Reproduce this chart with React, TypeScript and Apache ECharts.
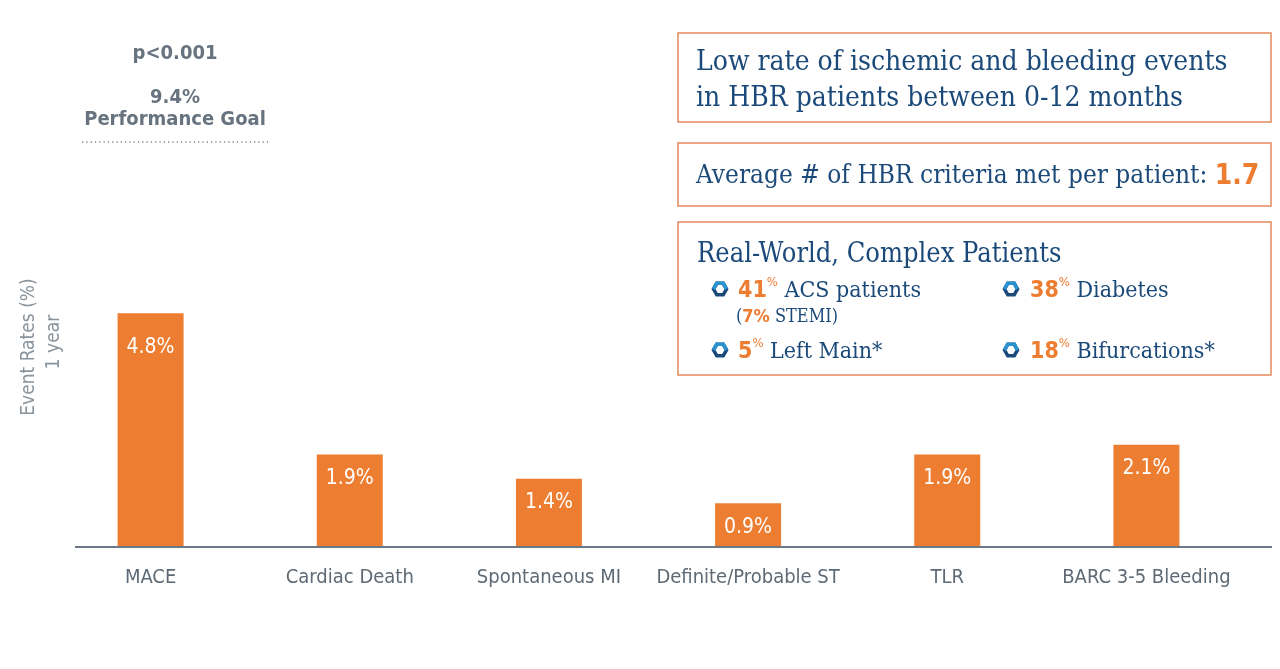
import React, { useEffect, useRef } from "react";
import * as echarts from "echarts";

const categories = ["MACE", "Cardiac Death", "Spontaneous MI", "Definite/Probable ST", "TLR", "BARC 3-5 Bleeding"];
const eventRates = [4.8, 1.9, 1.4, 0.9, 1.9, 2.1];
const yAxisMin = 0;
const yAxisMax = 10;

const ORANGE = "#ed7d31";
const BLUE = "#1b4a7a";
const LIGHTBLUE = "#2a93cf";
const GREY = "#67737e";
const SANS = "'Liberation Sans Narrow', 'DejaVu Sans Condensed', sans-serif";
const SERIF = "'DejaVu Serif Condensed', 'DejaVu Serif', serif";

function hexagon(cx: number, cy: number) {
  const r = 6.5;
  const pts: number[][] = [];
  for (let i = 0; i < 6; i++) {
    const a = (Math.PI / 3) * i;
    pts.push([cx + r * Math.cos(a), cy + r * Math.sin(a)]);
  }
  return [
    { type: "polygon", shape: { points: pts }, style: { fill: "none", stroke: BLUE, lineWidth: 3.5 } },
    { type: "polyline", shape: { points: [pts[3], pts[4], pts[5], pts[0]] }, style: { fill: "none", stroke: LIGHTBLUE, lineWidth: 3.5 } },
  ];
}

function richItem(x: number, y: number, num: string, label: string, size = 23) {
  return {
    type: "text",
    x,
    y,
    style: {
      text: `{n|${num}}{p|%}{t| ${label}}`,
      verticalAlign: "middle",
      rich: {
        n: { fill: ORANGE, fontSize: size, fontWeight: "bold", fontFamily: SANS, lineHeight: 28 },
        p: { fill: ORANGE, fontSize: 13, fontFamily: SANS, verticalAlign: "top", lineHeight: 28 },
        t: { fill: BLUE, fontSize: size, fontFamily: SERIF, lineHeight: 28 },
      },
    },
  };
}

export default function App() {
  const ref = useRef<HTMLDivElement>(null);
  useEffect(() => {
    if (!ref.current) return;
    const chart = echarts.init(ref.current, undefined, { renderer: "svg" });
    const boxStyle = { fill: "#fff", stroke: "#e58a5c", lineWidth: 1.5 };
    const option: any = {
      animation: false,
      grid: { left: 51, right: 34, top: 60, bottom: 122 },
      xAxis: {
        type: "category",
        data: categories,
        axisLine: { show: false },
        axisTick: { show: false },
        axisLabel: { color: "#5d6a75", fontSize: 20, fontFamily: SANS, margin: 19, interval: 0 },
      },
      yAxis: { type: "value", min: yAxisMin, max: yAxisMax, show: false },
      series: [
        {
          type: "bar",
          barWidth: 66,
          data: eventRates.map((v, i) => ({
            value: v,
            label: { distance: i === 0 ? 22 : 12 },
          })),
          itemStyle: { color: ORANGE },
          label: {
            show: true,
            position: "insideTop",
            color: "#fff",
            fontSize: 21,
            fontFamily: SANS,
            formatter: (p: any) => `${p.value}%`,
          },
        },
      ],
      graphic: [
        { type: "line", shape: { x1: 75, y1: 547, x2: 1272, y2: 547 }, style: { stroke: "#6b7886", lineWidth: 2 }, z: 10 },
        {
          type: "text", x: 27, y: 347, rotation: Math.PI / 2,
          style: { text: "Event Rates (%)", fill: "#8a949c", fontSize: 19, fontFamily: SANS, align: "center", verticalAlign: "middle" },
        },
        {
          type: "text", x: 52, y: 342, rotation: Math.PI / 2,
          style: { text: "1 year", fill: "#8a949c", fontSize: 19, fontFamily: SANS, align: "center", verticalAlign: "middle" },
        },
        { type: "text", x: 175, y: 52, style: { text: "p<0.001", fill: GREY, fontSize: 20, fontWeight: "bold", fontFamily: SANS, align: "center", verticalAlign: "middle" } },
        {
          type: "text", x: 175, y: 107,
          style: { text: "9.4%\nPerformance Goal", fill: GREY, fontSize: 20, lineHeight: 22, fontWeight: "bold", fontFamily: SANS, align: "center", verticalAlign: "middle" },
        },
        { type: "line", shape: { x1: 82, y1: 142, x2: 268, y2: 142 }, style: { stroke: "#7d8891", lineWidth: 1.3, lineDash: [1.3, 3] } },

        { type: "rect", shape: { x: 678, y: 33, width: 593, height: 89 }, style: boxStyle },
        { type: "text", x: 696, y: 60, style: { text: "Low rate of ischemic and bleeding events", fill: BLUE, fontSize: 28, fontFamily: SERIF, verticalAlign: "middle" } },
        { type: "text", x: 696, y: 96, style: { text: "in HBR patients between 0-12 months", fill: BLUE, fontSize: 28, fontFamily: SERIF, verticalAlign: "middle" } },

        { type: "rect", shape: { x: 678, y: 143, width: 593, height: 63 }, style: boxStyle },
        {
          type: "text", x: 696, y: 174,
          style: {
            text: "{t|Average # of HBR criteria met per patient: }{n|1.7}",
            verticalAlign: "middle",
            rich: {
              t: { fill: BLUE, fontSize: 26, fontFamily: SERIF },
              n: { fill: ORANGE, fontSize: 28, fontWeight: "bold", fontFamily: SANS },
            },
          },
        },

        { type: "rect", shape: { x: 678, y: 222, width: 593, height: 153 }, style: boxStyle },
        { type: "text", x: 697, y: 252, style: { text: "Real-World, Complex Patients", fill: BLUE, fontSize: 27, fontFamily: SERIF, verticalAlign: "middle" } },
        ...hexagon(720, 289),
        richItem(738, 289, "41", "ACS patients"),
        {
          type: "text", x: 736, y: 315,
          style: {
            text: "{t|(}{n|7%}{t| STEMI)}",
            verticalAlign: "middle",
            rich: {
              t: { fill: BLUE, fontSize: 18, fontFamily: SERIF },
              n: { fill: ORANGE, fontSize: 18, fontWeight: "bold", fontFamily: SANS },
            },
          },
        },
        ...hexagon(1011, 289),
        richItem(1030, 289, "38", "Diabetes"),
        ...hexagon(720, 350),
        richItem(738, 350, "5", "Left Main*"),
        ...hexagon(1011, 350),
        richItem(1030, 350, "18", "Bifurcations*"),
      ],
    };
    chart.setOption(option);
    return () => chart.dispose();
  }, []);
  return <div ref={ref} style={{ position: "fixed", left: 0, top: 0, width: 1280, height: 669 }} />;
}
